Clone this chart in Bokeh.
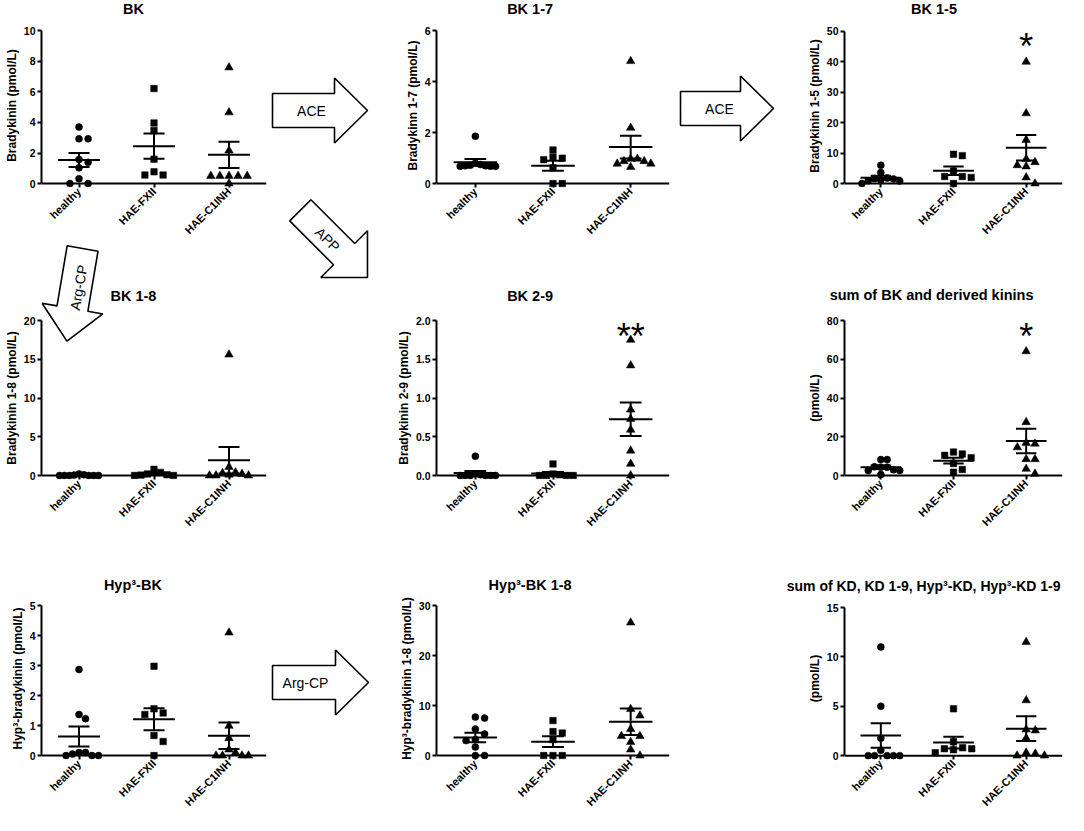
import math
from bokeh.plotting import figure
from bokeh.layouts import row, column
from bokeh.models import (FixedTicker, Range1d, Span, Title,
                          NumeralTickFormatter, ColumnDataSource)
from bokeh.embed import file_html
from bokeh.resources import INLINE
from bokeh.core.properties import value

FONT = "Liberation Sans"

# ---------------- data ----------------
groups = ["healthy", "HAE-FXII", "HAE-C1INH"]

bk_healthy = [3.70, 2.93, 2.93, 1.58, 1.39, 1.03, 0.32, 0.0, 0.0]
bk_fxii = [6.22, 3.97, 3.48, 1.60, 0.77, 0.56, 0.56]
bk_c1inh = [7.60, 4.66, 2.16, 0.50, 0.50, 0.50, 0.50, 0.50, 0.0]

bk17_healthy = [1.86, 0.80, 0.75, 0.72, 0.70, 0.70, 0.68, 0.68, 0.68]
bk17_fxii = [1.32, 1.04, 1.00, 0.94, 0.62, 0.0, 0.0]
bk17_c1inh = [4.81, 2.19, 0.97, 0.97, 0.88, 0.88, 0.78, 0.78, 0.65]

bk15_healthy = [6.0, 3.6, 1.8, 1.6, 1.5, 1.2, 0.9, 0.8, 0.0]
bk15_fxii = [9.6, 9.15, 4.1, 2.3, 2.3, 2.0, 0.0]
bk15_c1inh = [39.9, 23.0, 14.3, 8.0, 7.0, 6.0, 5.6, 2.0, 0.0]

bk18_healthy = [0.2, 0.1, 0.05, 0.0, 0.0, 0.0, 0.0, 0.0, 0.0]
bk18_fxii = [0.8, 0.4, 0.2, 0.1, 0.05, 0.0, 0.0]
bk18_c1inh = [15.6, 1.1, 0.4, 0.3, 0.2, 0.1, 0.0, 0.0, 0.0]

bk29_healthy = [0.25, 0.02, 0.01, 0.0, 0.0, 0.0, 0.0, 0.0, 0.0]
bk29_fxii = [0.15, 0.02, 0.01, 0.0, 0.0, 0.0, 0.0]
bk29_c1inh = [1.75, 1.42, 0.85, 0.73, 0.59, 0.32, 0.15, 0.0]

sum_healthy = [8.2, 8.2, 4.5, 4.3, 4.3, 3.0, 2.6, 2.6, 0.5]
sum_fxii = [12.1, 11.1, 10.4, 9.1, 6.2, 3.1, 1.7]
sum_c1inh = [64.1, 27.5, 16.8, 16.4, 14.5, 8.4, 8.4, 3.4, 0.9]

hyp_healthy = [2.87, 1.37, 1.23, 0.10, 0.10, 0.05, 0.0, 0.0, 0.0]
hyp_fxii = [2.98, 1.56, 1.42, 1.37, 0.67, 0.47, 0.0]
hyp_c1inh = [4.10, 0.99, 0.58, 0.20, 0.10, 0.0, 0.0, 0.0, 0.0]

hyp18_healthy = [7.7, 7.5, 5.3, 4.3, 3.2, 3.0, 1.7, 0.0, 0.0]
hyp18_fxii = [7.0, 4.8, 4.5, 3.2, 0.0, 0.0, 0.0]
hyp18_c1inh = [26.6, 9.3, 8.0, 5.3, 3.9, 3.9, 2.7, 1.2, 0.0]

kd_healthy = [11.0, 5.0, 1.77, 0.55, 0.0, 0.0, 0.0, 0.0, 0.0]
kd_fxii = [4.74, 1.40, 0.80, 0.70, 0.70, 0.60, 0.30]
kd_c1inh = [11.5, 5.6, 2.65, 2.55, 1.77, 0.30, 0.20, 0.0, 0.0]

titles = ["BK", "BK 1-7", "BK 1-5",
          "BK 1-8", "BK 2-9", "sum of BK and derived kinins",
          "Hyp\u00b3-BK", "Hyp\u00b3-BK 1-8",
          "sum of KD, KD 1-9, Hyp\u00b3-KD, Hyp\u00b3-KD 1-9"]
ylabels = ["Bradykinin (pmol/L)", "Bradykinn 1-7 (pmol/L)", "Bradykinin 1-5 (pmol/L)",
           "Bradykinin 1-8 (pmol/L)", "Bradykinin 2-9 (pmol/L)", "(pmol/L)",
           "Hyp\u00b3-bradykinin (pmol/L)", "Hyp\u00b3-bradykinin 1-8 (pmol/L)", "(pmol/L)"]
yticks = [[0, 2, 4, 6, 8, 10], [0, 2, 4, 6], [0, 10, 20, 30, 40, 50],
          [0, 5, 10, 15, 20], [0.0, 0.5, 1.0, 1.5, 2.0], [0, 20, 40, 60, 80],
          [0, 1, 2, 3, 4, 5], [0, 10, 20, 30], [0, 5, 10, 15]]
series = [[bk_healthy, bk_fxii, bk_c1inh], [bk17_healthy, bk17_fxii, bk17_c1inh],
          [bk15_healthy, bk15_fxii, bk15_c1inh], [bk18_healthy, bk18_fxii, bk18_c1inh],
          [bk29_healthy, bk29_fxii, bk29_c1inh], [sum_healthy, sum_fxii, sum_c1inh],
          [hyp_healthy, hyp_fxii, hyp_c1inh], [hyp18_healthy, hyp18_fxii, hyp18_c1inh],
          [kd_healthy, kd_fxii, kd_c1inh]]
stars = [None, None, "*", None, "**", "*", None, None, None]
arrow_labels = ["ACE", "APP", "Arg-CP", "ACE", "Arg-CP"]

# ---------------- layout constants (page pixel coordinates) ----------------
COLS = [(0, 268), (390, 678), (782, 1068)]
GAPS = [(268, 390), (678, 782)]
ROWS = [(0, 243), (243, 535), (535, 815)]
# frame left, frame right, y of top tick, y of zero line
FRAMES = [[(37, 267, 31, 187), (436, 670, 31, 187), (833, 1062, 31, 186)],
          [(37, 267, 320, 475), (436, 670, 320, 475), (834, 1064, 320, 475)],
          [(37, 266, 607, 761), (435, 669, 607, 761), (844, 1066, 607, 761)]]
TITLE_POS = [[(131, 9), (530, 9), (927, 9)],
             [(131, 295), (530, 295), (929, 295)],
             [(130, 586), (529, 586), (927, 586)]]
TITLE_ABOVE_RIGHT = {5: 1035, 8: 1064}   # long titles: right end position
TITLE_SIZES = [14.5, 14.5, 14.5, 14.5, 14.5, 14.5, 14.5, 14.5, 14]
PAD = 4
MARKERS = ["circle", "square", "triangle"]
MSIZE = [7, 6.5, 8.5]

AW = {' ': 278, '(': 333, ')': 333, '*': 389, ',': 278, '-': 333, '.': 278, '/': 278,
      '\u00b3': 333, 'A': 722, 'B': 722, 'C': 722, 'D': 722, 'E': 667, 'F': 611,
      'H': 722, 'I': 278, 'K': 722, 'L': 611, 'N': 722, 'P': 667, 'X': 667,
      'a': 556, 'b': 611, 'c': 556, 'd': 611, 'e': 556, 'f': 333, 'g': 611, 'h': 611,
      'i': 278, 'k': 556, 'l': 278, 'm': 889, 'n': 611, 'o': 611, 'p': 611, 'r': 389,
      's': 556, 't': 333, 'u': 611, 'v': 556, 'y': 556}
for d in "0123456789":
    AW[d] = 556


def text_width(s, size):
    return sum(AW.get(ch, 600) for ch in s) / 1000.0 * size


def swarm(vals, ppx, ppy, d_px=9.3, thr=7.2, max_half=0.26):
    order = sorted(range(len(vals)), key=lambda i: -vals[i])
    cands = [0.0]
    for k in range(1, 20):
        cands += [k * d_px, -k * d_px]
    placed = []
    offs = [0.0] * len(vals)
    for i in order:
        y = vals[i] * ppy
        for c in cands:
            if all((c - px) ** 2 + (y - py) ** 2 >= thr ** 2 for px, py in placed):
                break
        placed.append((c, y))
        offs[i] = c / ppx
    m = max(abs(o) for o in offs)
    if m > max_half:
        offs = [o * max_half / m for o in offs]
    return offs


def arrow_pts(tx, ty, theta_deg, L=95, Lh=33, hw=17, hh=32.5):
    th = math.radians(theta_deg)
    c, s = math.cos(th), math.sin(th)
    local = [(0, -hw), (L - Lh, -hw), (L - Lh, -hh), (L, 0), (L - Lh, hh), (L - Lh, hw), (0, hw)]
    return ([tx + u * c - v * s for u, v in local], [ty + u * s + v * c for u, v in local])


ARROW_STYLE = dict(fill_color="white", line_color="black", line_width=1.6)
ARROW_TEXT = dict(text_align="center", text_baseline="middle", text_font=value(FONT),
                  text_font_size="14px", text_color="black")


def style_fig(p):
    p.outline_line_color = None
    p.xgrid.visible = False
    p.ygrid.visible = False
    p.background_fill_color = "white"
    p.border_fill_color = "white"


def make_panel(idx):
    ri, ci = divmod(idx, 3)
    cx0, cx1 = COLS[ci]
    ry0, ry1 = ROWS[ri]
    fl, fr, ytop, y0 = FRAMES[ri][ci]
    ticks = yticks[idx]
    ymax = ticks[-1]
    ppy = (y0 - ytop) / ymax
    ppx = (fr - fl) / 3.0
    ystart = -PAD / ppy
    above = idx in TITLE_ABOVE_RIGHT
    tsize = TITLE_SIZES[idx]
    if above:
        yend, mbt = ymax, ytop - ry0
    else:
        yend, mbt = (y0 - ry0) / ppy, 0      # frame reaches the top of the figure
    p = figure(width=cx1 - cx0, height=ry1 - ry0,
               x_range=Range1d(0.5, 3.5), y_range=Range1d(ystart, yend),
               output_backend="svg", toolbar_location=None,
               min_border_left=fl - cx0, min_border_right=cx1 - fr,
               min_border_top=mbt, min_border_bottom=ry1 - (y0 + PAD))
    style_fig(p)

    def to_data(X, Y):
        return 0.5 + (X - fl) / ppx, (y0 - Y) / ppy

    # panel title
    tcx, tcy = TITLE_POS[ri][ci]
    if above:
        p.title.text = titles[idx]
        p.title.align = "right"
        p.title.offset = fr - TITLE_ABOVE_RIGHT[idx]
        p.title.standoff = 2 * (ytop - tcy - 7)
        p.title.text_font = FONT
        p.title.text_font_size = f"{tsize}px"
        p.title.text_font_style = "bold"
        p.title.text_color = "black"
    else:
        tx, ty = to_data(tcx, tcy)
        p.text(x=[tx], y=[ty], text=[titles[idx]], text_align="center", text_baseline="middle",
               text_font=value(FONT), text_font_size=f"{tsize}px", text_font_style="bold",
               text_color="black")

    # axes
    xa = p.xaxis[0]
    ya = p.yaxis[0]
    for ax in (xa, ya):
        ax.major_tick_line_width = 2
        ax.major_tick_line_color = "black"
        ax.minor_tick_line_color = None
        ax.major_label_text_font = FONT
        ax.major_label_text_font_style = "bold"
        ax.major_label_text_color = "black"
    xa.axis_line_color = None
    xa.major_tick_in = PAD
    xa.major_tick_out = 0
    xa.ticker = FixedTicker(ticks=[1, 2, 3])
    xa.major_label_overrides = {1: groups[0], 2: groups[1], 3: groups[2]}
    xa.major_label_orientation = math.pi / 4
    xa.major_label_text_font_size = "11px"
    xa.major_label_standoff = 2
    p.add_layout(Span(location=0, dimension="width", line_color="black", line_width=2))

    ya.axis_line_width = 2
    ya.axis_line_color = "black"
    ya.major_tick_in = 0
    ya.major_tick_out = 4
    ya.ticker = FixedTicker(ticks=ticks)
    ya.bounds = (0, ymax)
    ya.major_label_text_font_size = "10.5px"
    ya.major_label_standoff = 2
    if idx == 4:
        ya.formatter = NumeralTickFormatter(format="0.0")

    # y-axis label as a side title, centred on the 0..ymax part of the axis
    lab = ylabels[idx]
    w = text_width(lab, 12)
    centre = (ytop + y0) / 2.0
    off = (y0 + PAD) - (centre + w / 2.0)
    p.add_layout(Title(text=lab, align="left", offset=off, standoff=4,
                       text_font=FONT, text_font_size="12px", text_font_style="bold",
                       text_color="black"), "left")

    # points + mean/SEM
    for g, vals in enumerate(series[idx]):
        offs = swarm(vals, ppx, ppy)
        src = ColumnDataSource(dict(x=[g + 1 + o for o in offs], y=vals))
        p.scatter("x", "y", source=src, marker=MARKERS[g], size=MSIZE[g],
                  fill_color="black", line_color="black", line_width=0.5)
        n = len(vals)
        m = sum(vals) / n
        sd = math.sqrt(sum((v - m) ** 2 for v in vals) / (n - 1))
        sem = sd / math.sqrt(n)
        c = g + 1
        p.segment(x0=[c - 0.28, c - 0.14, c - 0.14, c], y0=[m, m + sem, m - sem, m - sem],
                  x1=[c + 0.28, c + 0.14, c + 0.14, c], y1=[m, m + sem, m - sem, m + sem],
                  line_color="black", line_width=2)

    if stars[idx]:
        p.text(x=[3], y=[0.95 * ymax], text=[stars[idx]], text_align="center",
               text_baseline="middle", text_font=value(FONT), text_font_size="36px",
               y_offset=8, text_color="black")

    return p, to_data


panels = []
mappers = []
for i in range(9):
    p, f = make_panel(i)
    panels.append(p)
    mappers.append(f)

# Arg-CP arrow from BK down to BK 1-8, inside the BK 1-8 panel
to_d = mappers[3]
axs, ays = arrow_pts(79, 248, 99.8, L=94, Lh=33, hw=16, hh=31.5)
dp = [to_d(X, Y) for X, Y in zip(axs, ays)]
panels[3].patch(x=[d[0] for d in dp], y=[d[1] for d in dp], **ARROW_STYLE)
lx, ly = to_d(75, 287)
panels[3].text(x=[lx], y=[ly], text=[arrow_labels[4]], angle=[math.radians(80.2)], **ARROW_TEXT)


def gap_fig(x0, x1):
    g = figure(width=x1 - x0, height=ROWS[-1][1] - ROWS[0][0],
               x_range=Range1d(x0, x1), y_range=Range1d(ROWS[-1][1], ROWS[0][0]),
               output_backend="svg", toolbar_location=None,
               x_axis_location=None, y_axis_location=None,
               min_border_left=0, min_border_right=0,
               min_border_top=0, min_border_bottom=0)
    style_fig(g)
    return g


gap1 = gap_fig(*GAPS[0])
a1 = arrow_pts(272, 110, 0)
a2 = arrow_pts(299.8, 209.8, 45, hw=15, hh=33)
a3 = arrow_pts(272, 682, 0, L=96)
gap1.patches(xs=[a1[0], a2[0], a3[0]], ys=[a1[1], a2[1], a3[1]], **ARROW_STYLE)
gap1.text(x=[311, 327, 305], y=[110, 239, 682], text=arrow_labels[0:3],
          angle=[0, -math.pi / 4, 0], **ARROW_TEXT)

gap2 = gap_fig(*GAPS[1])
b1 = arrow_pts(680, 108, 0, L=93)
gap2.patches(xs=[b1[0]], ys=[b1[1]], **ARROW_STYLE)
gap2.text(x=[719], y=[108], text=[arrow_labels[3]], **ARROW_TEXT)

layout = row(column(panels[0], panels[3], panels[6]), gap1,
             column(panels[1], panels[4], panels[7]), gap2,
             column(panels[2], panels[5], panels[8]))

open("out.html", "w").write(file_html(layout, INLINE))
